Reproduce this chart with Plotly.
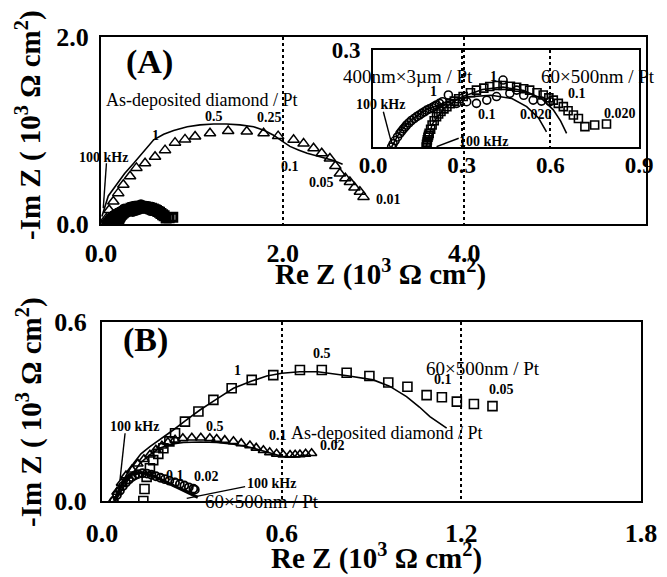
import plotly.graph_objects as go

# ---------------- Panel A (main) : As-deposited diamond / Pt ----------------
a_tri_x = [0.03, 0.06, 0.09, 0.136, 0.19, 0.246, 0.32, 0.39, 0.485, 0.595, 0.705, 0.815, 0.925, 1.036, 1.2, 1.40,
           1.605, 1.79, 1.95, 2.12, 2.23, 2.34, 2.43, 2.52, 2.58, 2.63, 2.69, 2.74, 2.79, 2.85, 2.89]
a_tri_y = [0.0, 0.06, 0.15, 0.24, 0.33, 0.42, 0.51, 0.60, 0.65, 0.72, 0.79, 0.87, 0.905, 0.935, 0.97, 0.995,
           0.99, 0.97, 0.94, 0.90, 0.86, 0.81, 0.756, 0.70, 0.62, 0.54, 0.49, 0.45, 0.39, 0.345, 0.29]
a_fit_x = [0.01, 0.08, 0.17, 0.26, 0.36, 0.47, 0.58, 0.69, 0.80, 0.95, 1.09, 1.24, 1.38, 1.53, 1.68, 1.80, 1.90,
           1.99, 2.08, 2.18, 2.27, 2.41, 2.56, 2.66]
a_fit_y = [0.08, 0.30, 0.42, 0.54, 0.65, 0.78, 0.90, 0.96, 1.00, 1.04, 1.06, 1.07, 1.07, 1.06, 1.04, 1.00, 0.95,
           0.89, 0.83, 0.79, 0.756, 0.72, 0.68, 0.64]
a_lead_x = [0.06, 0.025]
a_lead_y = [0.65, 0.17]

# ---------------- Inset of A : 400nm x 3um / Pt (circles), 60 x 500nm / Pt (squares) ----------------
in_cir_x = [0.063, 0.068, 0.075, 0.083, 0.091, 0.097, 0.103, 0.109, 0.114, 0.122, 0.13, 0.139, 0.148, 0.157, 0.165,
            0.174, 0.182, 0.191, 0.2, 0.208, 0.215, 0.225, 0.235, 0.255, 0.283, 0.317, 0.35, 0.385, 0.418, 0.44,
            0.463, 0.486, 0.51, 0.542, 0.57, 0.599]
in_cir_y = [0.0, 0.01, 0.02, 0.031, 0.042, 0.049, 0.056, 0.062, 0.068, 0.075, 0.082, 0.088, 0.094, 0.099, 0.104,
            0.109, 0.114, 0.118, 0.122, 0.126, 0.13, 0.135, 0.14, 0.161, 0.135, 0.14, 0.135, 0.145, 0.156, 0.207,
            0.166, 0.176, 0.16, 0.145, 0.142, 0.14]
in_sq_x = [0.18, 0.181, 0.183, 0.184, 0.186, 0.188, 0.19, 0.195, 0.2, 0.207, 0.215, 0.222, 0.23, 0.24, 0.25, 0.262,
           0.275, 0.29, 0.305, 0.33, 0.35, 0.375, 0.395, 0.42, 0.44, 0.465, 0.486, 0.51, 0.53, 0.555, 0.576, 0.595,
           0.61, 0.627, 0.644, 0.66, 0.678, 0.695, 0.717, 0.75, 0.79]
in_sq_y = [0.0, 0.008, 0.015, 0.022, 0.03, 0.036, 0.042, 0.055, 0.068, 0.081, 0.094, 0.102, 0.11, 0.118, 0.125,
           0.134, 0.142, 0.149, 0.156, 0.168, 0.176, 0.182, 0.187, 0.19, 0.19, 0.188, 0.185, 0.18, 0.176, 0.168,
           0.161, 0.152, 0.145, 0.135, 0.125, 0.112, 0.099, 0.088, 0.063, 0.068, 0.071]
in_fit1_x = [0.063, 0.09, 0.13, 0.18, 0.25, 0.32, 0.40, 0.47, 0.52, 0.56, 0.587]
in_fit1_y = [0.0, 0.045, 0.085, 0.115, 0.14, 0.155, 0.16, 0.15, 0.125, 0.09, 0.047]
in_fit2_x = [0.18, 0.20, 0.24, 0.30, 0.37, 0.44, 0.51, 0.57, 0.61, 0.635, 0.655]
in_fit2_y = [0.0, 0.07, 0.12, 0.155, 0.178, 0.185, 0.175, 0.15, 0.115, 0.08, 0.042]
in_lead1_x = [0.035, 0.063]
in_lead1_y = [0.109, 0.011]
in_lead2_x = [0.29, 0.215]
in_lead2_y = [0.027, 0.001]

# ---------------- Panel B ----------------
b_sq_x = [0.138, 0.142, 0.149, 0.16, 0.171, 0.188, 0.205, 0.225, 0.244, 0.277, 0.322, 0.372, 0.433, 0.50, 0.572,
          0.661, 0.734, 0.817, 0.893, 0.956, 1.02, 1.084, 1.135, 1.185, 1.242, 1.304]
b_sq_y = [0.0, 0.04, 0.081, 0.11, 0.137, 0.158, 0.177, 0.2, 0.227, 0.266, 0.30, 0.339, 0.378, 0.406, 0.422,
          0.439, 0.439, 0.43, 0.419, 0.397, 0.383, 0.355, 0.348, 0.333, 0.325, 0.318]
b_tri_x = [0.035, 0.05, 0.065, 0.08, 0.1, 0.12, 0.14, 0.16, 0.18, 0.2, 0.22, 0.244, 0.27, 0.3, 0.33, 0.36, 0.383,
           0.41, 0.439, 0.465, 0.494, 0.515, 0.539, 0.56, 0.583, 0.605, 0.628, 0.645, 0.661, 0.68, 0.70]
b_tri_y = [0.0, 0.03, 0.06, 0.085, 0.105, 0.125, 0.14, 0.155, 0.172, 0.185, 0.197, 0.205, 0.21, 0.212, 0.212, 0.21,
           0.208, 0.204, 0.2, 0.193, 0.186, 0.178, 0.17, 0.163, 0.158, 0.155, 0.154, 0.155, 0.156, 0.158, 0.16]
b_cir_x = [0.04, 0.05, 0.06, 0.07, 0.08, 0.09, 0.1, 0.11, 0.12, 0.135, 0.15, 0.165, 0.18, 0.195, 0.21, 0.225,
           0.244, 0.26, 0.275, 0.29, 0.305, 0.31]
b_cir_y = [0.0, 0.02, 0.035, 0.05, 0.062, 0.072, 0.08, 0.086, 0.09, 0.093, 0.092, 0.088, 0.083, 0.078, 0.073,
           0.068, 0.062, 0.057, 0.052, 0.046, 0.041, 0.038]
b_fit_sq_x = [0.055, 0.08, 0.105, 0.13, 0.16, 0.2, 0.238, 0.28, 0.327, 0.38, 0.439, 0.5, 0.55, 0.6, 0.661, 0.72,
              0.761, 0.82, 0.906, 0.96, 1.017, 1.06, 1.095, 1.125, 1.151]
b_fit_sq_y = [0.037, 0.085, 0.126, 0.158, 0.182, 0.21, 0.238, 0.27, 0.305, 0.34, 0.378, 0.402, 0.419, 0.428, 0.433,
              0.433, 0.428, 0.42, 0.406, 0.385, 0.35, 0.315, 0.283, 0.262, 0.244]
b_fit_tri_x = [0.045, 0.08, 0.127, 0.16, 0.194, 0.23, 0.272, 0.33, 0.383, 0.44, 0.494, 0.54, 0.572, 0.6, 0.628,
               0.655, 0.683]
b_fit_tri_y = [0.0, 0.06, 0.126, 0.155, 0.178, 0.19, 0.196, 0.198, 0.196, 0.19, 0.18, 0.168, 0.158, 0.15, 0.147,
               0.149, 0.154]
b_fit_cir_x = [0.04, 0.07, 0.10, 0.13, 0.17, 0.21, 0.25, 0.29, 0.32]
b_fit_cir_y = [0.0, 0.06, 0.09, 0.095, 0.085, 0.065, 0.045, 0.025, 0.012]
b_lead1_x = [0.077, 0.06]
b_lead1_y = [0.227, 0.07]
b_lead2_x = [0.478, 0.283]
b_lead2_y = [0.048, 0.009]

# tick labels
a_xticks = [0, 2, 4]
a_xtext = ["0.0", "2.0", "4.0"]
a_yticks = [0, 2]
a_ytext = ["0.0", "2.0"]
in_xticks = [0, 0.3, 0.6, 0.9]
in_xtext = ["0.0", "0.3", "0.6", "0.9"]
in_yticks = [0.3]
in_ytext = ["0.3"]
b_xticks = [0, 0.6, 1.2, 1.8]
b_xtext = ["0.0", "0.6", "1.2", "1.8"]
b_yticks = [0, 0.6]
b_ytext = ["0.0", "0.6"]

SERIF = "Liberation Serif, Times New Roman, serif"
W, H = 667, 577


def px(x):
    return x / W


def py(y):
    return 1 - y / H


fig = go.Figure()


def line(x, y, xa, ya, w=1.6):
    fig.add_trace(go.Scatter(x=x, y=y, mode="lines", xaxis=xa, yaxis=ya,
                             line=dict(color="black", width=w), showlegend=False, hoverinfo="skip"))


def marks(x, y, xa, ya, sym, size, w=1.5):
    fig.add_trace(go.Scatter(x=x, y=y, mode="markers", xaxis=xa, yaxis=ya,
                             marker=dict(symbol=sym, size=size, color="black",
                                         line=dict(color="black", width=w)),
                             showlegend=False, hoverinfo="skip"))


# Panel A
marks(a_tri_x, a_tri_y, "x", "y", "triangle-up-open", 10)
line(a_fit_x, a_fit_y, "x", "y")
line(a_lead_x, a_lead_y, "x", "y", 1.4)
marks(in_cir_x, in_cir_y, "x", "y", "circle-open", 8, 3)
marks(in_sq_x, in_sq_y, "x", "y", "square-open", 8, 3)

# Inset
marks(in_cir_x, in_cir_y, "x2", "y2", "circle-open", 8, 1.6)
marks(in_sq_x, in_sq_y, "x2", "y2", "square-open", 8, 1.6)
line(in_fit1_x, in_fit1_y, "x2", "y2")
line(in_fit2_x, in_fit2_y, "x2", "y2")
line(in_lead1_x, in_lead1_y, "x2", "y2", 1.4)
line(in_lead2_x, in_lead2_y, "x2", "y2", 1.4)

# Panel B
marks(b_sq_x, b_sq_y, "x3", "y3", "square-open", 9, 1.6)
marks(b_tri_x, b_tri_y, "x3", "y3", "triangle-up-open", 9, 1.6)
marks(b_cir_x, b_cir_y, "x3", "y3", "circle-open", 8, 1.8)
line(b_fit_sq_x, b_fit_sq_y, "x3", "y3")
line(b_fit_tri_x, b_fit_tri_y, "x3", "y3")
line(b_fit_cir_x, b_fit_cir_y, "x3", "y3", 3)
line(b_lead1_x, b_lead1_y, "x3", "y3", 1.4)
line(b_lead2_x, b_lead2_y, "x3", "y3", 1.4)

tick_font = dict(family=SERIF, size=26, color="black", weight="bold")
inset_tick_font = dict(family=SERIF, size=23, color="black", weight="bold")

common = dict(showline=True, mirror=True, linecolor="black", linewidth=2, zeroline=False, ticks="",
              fixedrange=True, automargin=False)

fig.update_layout(
    width=W, height=H, autosize=False,
    margin=dict(l=0, r=0, t=0, b=0, pad=0, autoexpand=False),
    paper_bgcolor="white", plot_bgcolor="rgba(0,0,0,0)",
    showlegend=False,
    xaxis=dict(domain=[px(101), px(646)], anchor="y", range=[0, 6], tickvals=a_xticks, ticktext=a_xtext,
               tickfont=tick_font, showgrid=True, gridcolor="black", griddash="dot", gridwidth=1.8,
               ticklabelstandoff=5, **common),
    yaxis=dict(domain=[py(224), py(37)], anchor="x", range=[0, 2.0], tickvals=a_yticks, ticktext=a_ytext,
               tickfont=tick_font, showgrid=False, ticklabelstandoff=5, **common),
    xaxis2=dict(domain=[px(373), px(639)], anchor="y2", range=[0, 0.9], tickvals=in_xticks, ticktext=in_xtext,
                tickfont=inset_tick_font, showgrid=True, gridcolor="black", griddash="dot", gridwidth=1.8,
                ticklabelstandoff=-4, **common),
    yaxis2=dict(domain=[py(147), py(50)], anchor="x2", range=[0, 0.3], tickvals=in_yticks, ticktext=in_ytext,
                tickfont=inset_tick_font, showgrid=False, ticklabelstandoff=6, **common),
    xaxis3=dict(domain=[px(102), px(641)], anchor="y3", range=[0, 1.8], tickvals=b_xticks, ticktext=b_xtext,
                tickfont=tick_font, showgrid=True, gridcolor="black", griddash="dot", gridwidth=1.8,
                ticklabelstandoff=8, **common),
    yaxis3=dict(domain=[py(501), py(322)], anchor="x3", range=[0, 0.6], tickvals=b_yticks, ticktext=b_ytext,
                tickfont=tick_font, showgrid=False, ticklabelstandoff=8, **common),
)

ann = []


def txt(text, x, y, xref, yref, size, bold=False, angle=0, xanchor="center", yshift=0):
    ann.append(dict(text=text, x=x, y=y, xref=xref, yref=yref, showarrow=False, textangle=angle,
                    xanchor=xanchor, yanchor="middle", yshift=yshift,
                    font=dict(family=SERIF, size=size, color="black", weight="bold" if bold else "normal")))


axis_title = "Re Z (10<sup>3</sup> \u03a9 cm<sup>2</sup>)"
ytitle = "-Im Z ( 10<sup>3</sup> \u03a9 cm<sup>2</sup>)"
txt(axis_title, px(380), py(272), "paper", "paper", 29, True)
txt(axis_title, px(377), py(556), "paper", "paper", 29, True)
txt(ytitle, px(29), py(125), "paper", "paper", 29, True, -90)
txt(ytitle, px(29), py(412), "paper", "paper", 29, True, -90)

# Panel A annotations
txt("(A)", 0.53, 1.73, "x", "y", 34, True)
txt("As-deposited diamond / Pt", 1.11, 1.33, "x", "y", 18)
txt("100 kHz", 0.03, 0.71, "x", "y", 14, True)
txt("1", 0.60, 0.95, "x", "y", 14, True)
txt("0.5", 1.24, 1.15, "x", "y", 14, True)
txt("0.25", 1.86, 1.14, "x", "y", 14, True)
txt("0.1", 2.08, 0.62, "x", "y", 14, True)
txt("0.05", 2.43, 0.44, "x", "y", 14, True)
txt("0.01", 3.17, 0.26, "x", "y", 14, True)

# Inset annotations
txt("400nm\u00d73\u00b5m / Pt", 0.12, 0.217, "x2", "y2", 19)
txt("60\u00d7500nm / Pt", 0.76, 0.217, "x2", "y2", 19)
txt("100 kHz", 0.024, 0.13, "x2", "y2", 14, True)
txt("100 kHz", 0.375, 0.016, "x2", "y2", 14, True)
txt("1", 0.204, 0.171, "x2", "y2", 14, True)
txt("1", 0.407, 0.217, "x2", "y2", 14, True)
txt("0.1", 0.385, 0.099, "x2", "y2", 14, True)
txt("0.1", 0.69, 0.166, "x2", "y2", 14, True)
txt("0.020", 0.553, 0.099, "x2", "y2", 14, True)
txt("0.020", 0.836, 0.104, "x2", "y2", 14, True)

# Panel B annotations
txt("(B)", 0.144, 0.54, "x3", "y3", 34, True)
txt("60\u00d7500nm / Pt", 1.273, 0.445, "x3", "y3", 19)
txt("As-deposited diamond / Pt", 0.951, 0.229, "x3", "y3", 18)
txt("60\u00d7500nm / Pt", 0.534, 0.0, "x3", "y3", 19)
txt("100 kHz", 0.107, 0.249, "x3", "y3", 14, True)
txt("100 kHz", 0.567, 0.059, "x3", "y3", 14, True)
txt("1", 0.452, 0.439, "x3", "y3", 14, True)
txt("0.5", 0.734, 0.495, "x3", "y3", 14, True)
txt("0.5", 0.377, 0.251, "x3", "y3", 14, True)
txt("0.1", 0.589, 0.221, "x3", "y3", 14, True)
txt("0.1", 1.14, 0.408, "x3", "y3", 14, True)
txt("0.05", 1.335, 0.374, "x3", "y3", 14, True)
txt("0.02", 0.77, 0.185, "x3", "y3", 14, True)
txt("0.1", 0.244, 0.087, "x3", "y3", 14, True)
txt("0.02", 0.35, 0.081, "x3", "y3", 14, True)

fig.update_layout(annotations=ann)
fig.write_html("out.html", config={"displayModeBar": False},
               post_script="document.body.style.margin='0px';")
